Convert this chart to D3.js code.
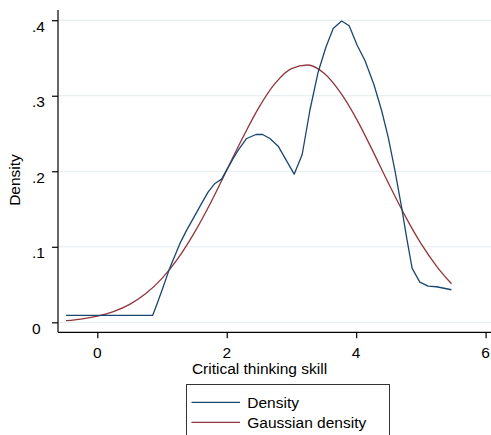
<!DOCTYPE html>
<html>
<head>
<meta charset="utf-8">
<script src="https://cdn.jsdelivr.net/npm/d3@7"></script>
<style>
  html, body { margin: 0; padding: 0; background: #fff; }
  svg { display: block; }
  text { font-family: "Liberation Sans", Arial, Helvetica, sans-serif; fill: #000; }
</style>
</head>
<body>
<svg id="chart" width="491" height="435"></svg>
<script>
// Kernel density estimate of critical thinking skill
const densityX = [-0.483, 0.856, 0.917, 1.019, 1.112, 1.200, 1.277, 1.381, 1.483, 1.612,
  1.714, 1.818, 1.921, 1.998, 2.100, 2.178, 2.307, 2.451, 2.554, 2.667,
  2.795, 3.042, 3.166, 3.285, 3.413, 3.532, 3.645, 3.775, 3.892, 4.015,
  4.134, 4.273, 4.392, 4.494, 4.598, 4.701, 4.778, 4.865, 4.984, 5.112,
  5.242, 5.473];
const densityY = [0.0093, 0.0093, 0.0229, 0.0471, 0.0701, 0.0886, 0.1045, 0.1221, 0.1376, 0.1574,
  0.1728, 0.1839, 0.1896, 0.2015, 0.2169, 0.2279, 0.2434, 0.2487, 0.2487, 0.2434,
  0.2332, 0.1962, 0.2222, 0.2808, 0.3315, 0.3642, 0.3889, 0.3989, 0.3926, 0.3668,
  0.3470, 0.3152, 0.2808, 0.2455, 0.2015, 0.1529, 0.1132, 0.0714, 0.0533, 0.0480,
  0.0471, 0.0431];

// Normal density overlay
const gaussX = [-0.483, -0.25, 0, 0.25, 0.5, 0.75, 1.0, 1.25, 1.5, 1.75, 2.0, 2.25, 2.5,
  2.75, 3.0, 3.25, 3.5, 3.75, 4.0, 4.25, 4.5, 4.75, 5.0, 5.25, 5.473];
const gaussY = [0.0022, 0.0043, 0.0082, 0.0142, 0.0238, 0.0381, 0.0582, 0.0850, 0.1187, 0.1580,
  0.2015, 0.2450, 0.2850, 0.3167, 0.3360, 0.3407, 0.3300, 0.3050, 0.2700, 0.2280,
  0.1840, 0.1420, 0.1045, 0.0735, 0.0510];

const xTicks = [0, 2, 4, 6];
const yTicks = [0, 0.1, 0.2, 0.3, 0.4];
const yTickLabels = ["0", ".1", ".2", ".3", ".4"];
const seriesNames = ["Density", "Gaussian density"];
const seriesColors = ["#1a476f", "#90353b"];

const svg = d3.select("#chart");
const plotLeft = 58, plotRight = 491, plotTop = 10, plotBottom = 332.3;

const x = d3.scaleLinear().domain([-0.6074, 6.0835]).range([plotLeft, plotRight]);
const y = d3.scaleLinear().domain([-0.01323, 0.41354]).range([plotBottom, plotTop]);

// horizontal grid
svg.append("g").selectAll("line").data(yTicks).join("line")
  .attr("x1", plotLeft).attr("x2", plotRight)
  .attr("y1", d => y(d)).attr("y2", d => y(d))
  .attr("stroke", "#e3ecef").attr("stroke-width", 1);

// y axis
const yAxis = d3.axisLeft(y).tickValues(yTicks).tickSize(6).tickFormat("");
const gy = svg.append("g").attr("transform", `translate(${plotLeft},0)`).call(yAxis);
gy.select(".domain").attr("d", `M0,${plotTop}V${plotBottom}`).attr("stroke", "#000").attr("stroke-width", 1.2);
gy.selectAll(".tick line").attr("stroke", "#000").attr("stroke-width", 1.2);

svg.append("g").selectAll("text").data(yTicks).join("text")
  .attr("x", 32).attr("y", d => y(d) + 11.5)
  .attr("text-anchor", "start")
  .style("font-size", "15.5px")
  .text((d, i) => yTickLabels[i]);

// x axis
const xAxis = d3.axisBottom(x).tickValues(xTicks).tickSize(6).tickFormat("");
const gx = svg.append("g").attr("transform", `translate(0,${plotBottom})`).call(xAxis);
gx.select(".domain").attr("d", `M${plotLeft},0H${plotRight}`).attr("stroke", "#000").attr("stroke-width", 1.2);
gx.selectAll(".tick line").attr("stroke", "#000").attr("stroke-width", 1.2);

svg.append("g").selectAll("text").data(xTicks).join("text")
  .attr("x", d => x(d)).attr("y", 357.5)
  .attr("text-anchor", "middle")
  .style("font-size", "15.5px")
  .text(d => d);

// axis titles
svg.append("text")
  .attr("x", 259.5).attr("y", 374)
  .attr("text-anchor", "middle")
  .style("font-size", "15.5px")
  .text("Critical thinking skill");

svg.append("text")
  .attr("transform", "translate(19.5,180) rotate(-90)")
  .attr("text-anchor", "middle")
  .style("font-size", "15.5px")
  .text("Density");

// curves
const densityLine = d3.line().x(d => x(d[0])).y(d => y(d[1]));
const gaussLine = d3.line().x(d => x(d[0])).y(d => y(d[1])).curve(d3.curveMonotoneX);

svg.append("path")
  .datum(gaussX.map((v, i) => [v, gaussY[i]]))
  .attr("d", gaussLine)
  .attr("fill", "none").attr("stroke", seriesColors[1]).attr("stroke-width", 1.3);

svg.append("path")
  .datum(densityX.map((v, i) => [v, densityY[i]]))
  .attr("d", densityLine)
  .attr("fill", "none").attr("stroke", seriesColors[0]).attr("stroke-width", 1.3)
  .attr("stroke-linejoin", "round");

// legend
const legend = svg.append("g");
legend.append("rect")
  .attr("x", 186.5).attr("y", 384.5).attr("width", 203).attr("height", 60)
  .attr("fill", "#fff").attr("stroke", "#333").attr("stroke-width", 1);
seriesNames.forEach((name, i) => {
  const ly = 402.3 + i * 20;
  legend.append("line")
    .attr("x1", 191.5).attr("x2", 240).attr("y1", ly).attr("y2", ly)
    .attr("stroke", seriesColors[i]).attr("stroke-width", 1.3);
  legend.append("text")
    .attr("x", 247.3).attr("y", ly + 5.3)
    .style("font-size", "15.5px")
    .text(name);
});
</script>
</body>
</html>
